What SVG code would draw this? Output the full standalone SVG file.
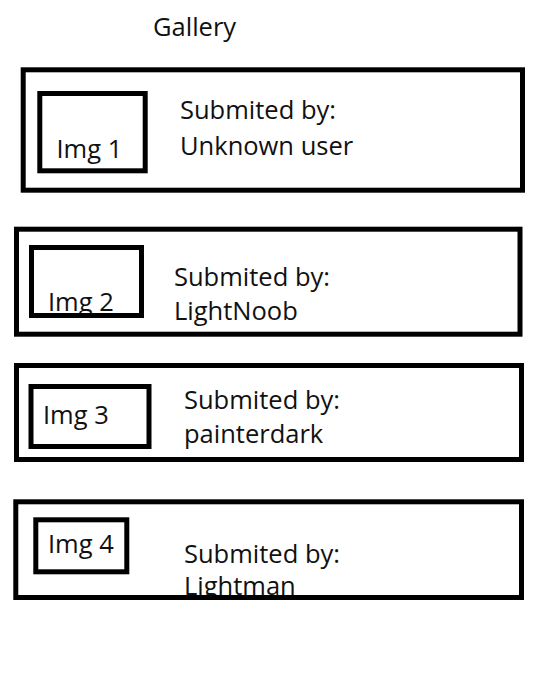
<svg xmlns="http://www.w3.org/2000/svg" width="546" height="690" viewBox="0 0 546 690">
<style>
.box{fill:none;stroke:#000;stroke-width:5}
.t{font-family:"Open Sans","Noto Sans",sans-serif;font-size:25.5px;fill:#111}
</style>
<defs>
<clipPath id="c4"><rect x="0" y="0" width="546" height="598"/></clipPath>
</defs>
<rect width="546" height="690" fill="#fff"/>
<g id="title"><text class="t" x="153" y="36">Gallery</text></g>
<g id="item1">
<rect class="box" x="23.2" y="69.8" width="499.3" height="120.4"/>
<rect class="box" x="39.8" y="93.5" width="105.4" height="77.3"/>
<text class="t" x="56.5" y="158">Img 1</text>
<text class="t" x="180" y="119">Submited by:</text>
<text class="t" x="180" y="155">Unknown user</text>
</g>
<g id="item2">
<text class="t" x="48" y="311">Img 2</text>
<rect class="box" x="16.5" y="229.2" width="503.5" height="105"/>
<rect class="box" x="31.5" y="247.5" width="110" height="68"/>
<text class="t" x="174" y="286">Submited by:</text>
<text class="t" x="174" y="320">LightNoob</text>
</g>
<g id="item3">
<rect class="box" x="16.5" y="365.5" width="505" height="94"/>
<rect class="box" x="31" y="386.5" width="118" height="60"/>
<text class="t" x="43" y="424">Img 3</text>
<text class="t" x="184" y="409">Submited by:</text>
<text class="t" x="184" y="443">painterdark</text>
</g>
<g id="item4">
<text class="t" x="184" y="595" clip-path="url(#c4)">Lightman</text>
<rect class="box" x="15.8" y="501.8" width="505.7" height="95.7"/>
<rect class="box" x="35.8" y="519.8" width="91" height="52"/>
<text class="t" x="48" y="552.7">Img 4</text>
<text class="t" x="184" y="562.7">Submited by:</text>
</g>
</svg>
